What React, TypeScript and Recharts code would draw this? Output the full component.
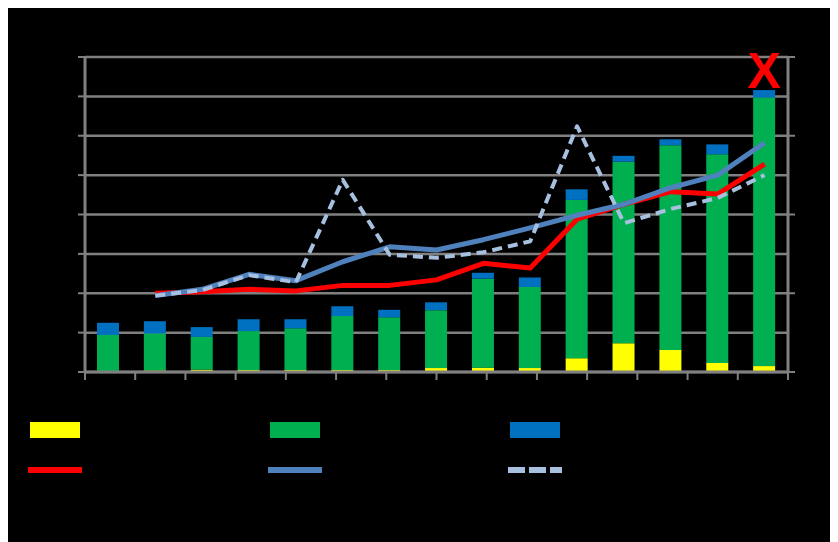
import { ComposedChart, Bar, Line, XAxis, YAxis, CartesianGrid, LabelList } from 'recharts';

const categories = ['2000', '2001', '2002', '2003', '2004', '2005', '2006', '2007', '2008', '2009', '2010', '2011', '2012', '2013', '2014'];
const yellowVals = [0, 0.04, 0.06, 0.05, 0.05, 0.05, 0.05, 0.1, 0.11, 0.1, 0.35, 0.73, 0.56, 0.23, 0.15];
const greenVals = [0.94, 0.94, 0.83, 0.99, 1.06, 1.37, 1.34, 1.47, 2.26, 2.06, 4.02, 4.61, 5.2, 5.3, 6.82];
const blueVals = [0.31, 0.31, 0.25, 0.3, 0.23, 0.25, 0.19, 0.2, 0.15, 0.24, 0.27, 0.15, 0.15, 0.25, 0.19];
const redLine = [null, 1.0, 1.02, 1.05, 1.03, 1.1, 1.1, 1.17, 1.38, 1.32, 1.94, 2.13, 2.29, 2.26, 2.64];
const steelLine = [null, 0.97, 1.05, 1.24, 1.16, 1.4, 1.59, 1.55, 1.68, 1.83, 1.99, 2.13, 2.34, 2.5, 2.91];
const dashLine = [null, 0.97, 1.04, 1.23, 1.14, 2.44, 1.49, 1.45, 1.52, 1.66, 3.12, 1.89, 2.07, 2.21, 2.5];
const marks = ['', '', '', '', '', '', '', '', '', '', '', '', '', '', 'X'];
const leftTicks = [0, 1, 2, 3, 4, 5, 6, 7, 8];
const rightTicks = [0, 1, 2, 3, 4];
const edgeTicks = [0, 1, 2, 3, 4, 5, 6, 7, 8, 9, 10, 11, 12, 13, 14, 15];

const data = categories.map((name, i) => ({
  name,
  small: yellowVals[i],
  core: greenVals[i],
  other: blueVals[i],
  ratioA: redLine[i],
  ratioB: steelLine[i],
  ratioC: dashLine[i],
  mark: marks[i],
}));

const legendBars = [
  { label: 'Small', color: '#FFFF00' },
  { label: 'Core', color: '#00B050' },
  { label: 'Other', color: '#0070C0' },
];
const legendLines = [
  { label: 'Ratio A', color: '#FF0000', dash: false },
  { label: 'Ratio B', color: '#4F81BD', dash: false },
  { label: 'Ratio C', color: '#A7C0E0', dash: true },
];

const grey = '#808080';
const font = "'Liberation Sans', Arial, sans-serif";

const renderMark = (props: any) => {
  const { x, y, width, value } = props;
  if (!value) return null;
  return (
    <text
      x={x + width / 2}
      y={y - 2}
      textAnchor="middle"
      fill="#FF0000"
      fontSize={50}
      fontWeight="bold"
      fontFamily="'Liberation Sans Narrow', 'Liberation Sans', Arial, sans-serif"
    >
      {value}
    </text>
  );
};

// boundary ticks only draw their tick marks
const noLabel = () => <g />;

export default function App() {
  return (
    <div style={{ position: 'relative', top: -5, width: 830, height: 544, background: '#000', fontFamily: font }}>
      <ComposedChart
        width={830}
        height={539}
        data={data}
        margin={{ top: 54, right: 10, bottom: 145, left: 27 }}
      >
        <CartesianGrid yAxisId="left" vertical={false} stroke={grey} strokeWidth={2.5} />
        <XAxis xAxisId="edges" type="number" domain={[0, 15]} ticks={edgeTicks} height={25}
          axisLine={{ stroke: grey, strokeWidth: 3 }} tickLine={{ stroke: grey, strokeWidth: 2 }} tickSize={8}
          tick={noLabel} />
        <XAxis xAxisId="cat" dataKey="name" height={0} axisLine={false} tickLine={false}
          tick={{ fill: '#000', fontSize: 11 }} />
        <YAxis yAxisId="left" domain={[0, 8]} ticks={leftTicks} width={50}
          axisLine={{ stroke: grey, strokeWidth: 3 }} tickLine={{ stroke: grey, strokeWidth: 2 }} tickSize={7}
          tick={{ fill: '#000', fontSize: 11 }} />
        <YAxis yAxisId="right" orientation="right" domain={[0, 4]} ticks={rightTicks} width={40}
          axisLine={{ stroke: grey, strokeWidth: 3 }} tickLine={{ stroke: grey, strokeWidth: 2 }} tickSize={7}
          tick={{ fill: '#000', fontSize: 11 }} />
        <Bar xAxisId="cat" yAxisId="left" dataKey="small" stackId="a" fill="#FFFF00" barSize={22} isAnimationActive={false} />
        <Bar xAxisId="cat" yAxisId="left" dataKey="core" stackId="a" fill="#00B050" barSize={22} isAnimationActive={false} />
        <Bar xAxisId="cat" yAxisId="left" dataKey="other" stackId="a" fill="#0070C0" barSize={22} isAnimationActive={false}>
          <LabelList dataKey="mark" content={renderMark} />
        </Bar>
        <Line xAxisId="cat" yAxisId="right" dataKey="ratioA" stroke="#FF0000" strokeWidth={5} dot={false}
          strokeLinejoin="round" isAnimationActive={false} />
        <Line xAxisId="cat" yAxisId="right" dataKey="ratioB" stroke="#4F81BD" strokeWidth={5} dot={false}
          strokeLinejoin="round" isAnimationActive={false} />
        <Line xAxisId="cat" yAxisId="right" dataKey="ratioC" stroke="#A7C0E0" strokeWidth={4} strokeDasharray="10 6" dot={false}
          strokeLinejoin="round" isAnimationActive={false} />
      </ComposedChart>

      {/* legend: two rows, bars on top, lines below */}
      <div style={{ position: 'absolute', left: 0, top: 0, width: 830, height: 539, pointerEvents: 'none' }}>
        {legendBars.map((s, i) => (
          <div key={s.label} style={{ position: 'absolute', left: 22 + i * 240, top: 419, display: 'flex', alignItems: 'center' }}>
            <div style={{ width: 50, height: 16, background: s.color }} />
            <span style={{ marginLeft: 8, color: '#000', fontSize: 14 }}>{s.label}</span>
          </div>
        ))}
        {legendLines.map((s, i) => (
          <div key={s.label} style={{ position: 'absolute', left: 20 + i * 240, top: 458, height: 18, display: 'flex', alignItems: 'center' }}>
            <svg width={54} height={8}>
              <line x1={0} y1={4} x2={54} y2={4} stroke={s.color} strokeWidth={6}
                strokeDasharray={s.dash ? '17 4' : undefined} />
            </svg>
            <span style={{ marginLeft: 8, color: '#000', fontSize: 14 }}>{s.label}</span>
          </div>
        ))}
      </div>
    </div>
  );
}
